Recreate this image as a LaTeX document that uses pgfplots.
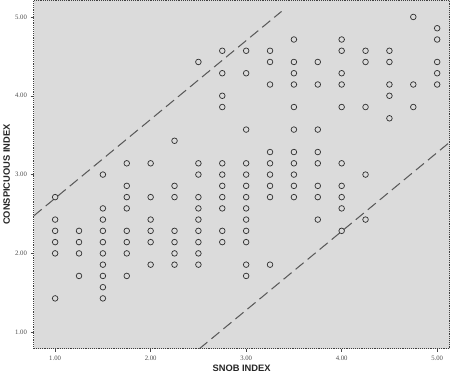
\documentclass[border=0pt]{standalone}
\usepackage{pgfplots}
\pgfplotsset{compat=1.18}
\usepackage{fontspec}
\setmainfont{Liberation Serif}
\newfontfamily\labelfont{Liberation Sans}
\begin{document}
\begin{tikzpicture}
\begin{axis}[
  scale only axis, width=400bp, height=335bp,
  xmin=0.775, xmax=5.13, ymin=0.79, ymax=5.21,
  xtick={1,2,3,4,5}, ytick={1,2,3,4,5},
  xticklabels={1.00,2.00,3.00,4.00,5.00},
  yticklabels={1.00,2.00,3.00,4.00,5.00},
  tick align=outside, tick pos=left,
  major tick length=3bp,
  tick style={black!70, line width=0.5pt},
  axis background/.style={fill=black!14},
  axis line style={black!75, densely dotted, line width=0.8pt},
  ticklabel style={font=\fontsize{6.5}{7}\selectfont, text=black!70},
  xlabel={SNOB INDEX}, ylabel={CONSPICUOUS INDEX},
  label style={font=\labelfont\bfseries\fontsize{9}{10}\selectfont, text=black!85},
  xlabel style={yshift=2bp},
  ylabel style={yshift=-2bp},
  clip=true,
]
\addplot[only marks, mark=o, mark size=2.7bp, black!80, mark options={line width=0.7pt}] table {
x y
1.00 1.429
1.00 2.000
1.00 2.143
1.00 2.286
1.00 2.429
1.00 2.714
1.25 1.714
1.25 2.000
1.25 2.143
1.25 2.286
1.50 1.429
1.50 1.571
1.50 1.714
1.50 1.857
1.50 2.000
1.50 2.143
1.50 2.286
1.50 2.429
1.50 2.571
1.50 3.000
1.75 1.714
1.75 2.000
1.75 2.143
1.75 2.286
1.75 2.571
1.75 2.714
1.75 2.857
1.75 3.143
2.00 1.857
2.00 2.143
2.00 2.286
2.00 2.429
2.00 2.714
2.00 3.143
2.25 1.857
2.25 2.000
2.25 2.143
2.25 2.286
2.25 2.714
2.25 2.857
2.25 3.429
2.50 1.857
2.50 2.000
2.50 2.143
2.50 2.286
2.50 2.429
2.50 2.571
2.50 2.714
2.50 3.000
2.50 3.143
2.50 4.429
2.75 2.143
2.75 2.286
2.75 2.571
2.75 2.714
2.75 2.857
2.75 3.000
2.75 3.143
2.75 3.857
2.75 4.000
2.75 4.286
2.75 4.571
3.00 1.714
3.00 1.857
3.00 2.143
3.00 2.286
3.00 2.429
3.00 2.571
3.00 2.714
3.00 2.857
3.00 3.000
3.00 3.143
3.00 3.571
3.00 4.286
3.00 4.571
3.25 1.857
3.25 2.714
3.25 2.857
3.25 3.000
3.25 3.143
3.25 3.286
3.25 4.143
3.25 4.429
3.25 4.571
3.50 2.714
3.50 2.857
3.50 3.000
3.50 3.143
3.50 3.286
3.50 3.571
3.50 3.857
3.50 4.143
3.50 4.286
3.50 4.429
3.50 4.714
3.75 2.429
3.75 2.714
3.75 2.857
3.75 3.143
3.75 3.286
3.75 3.571
3.75 4.143
3.75 4.429
4.00 2.286
4.00 2.571
4.00 2.714
4.00 2.857
4.00 3.143
4.00 3.857
4.00 4.143
4.00 4.286
4.00 4.571
4.00 4.714
4.25 2.429
4.25 3.000
4.25 3.857
4.25 4.429
4.25 4.571
4.50 3.714
4.50 4.000
4.50 4.143
4.50 4.429
4.50 4.571
4.75 3.857
4.75 4.143
4.75 5.000
5.00 4.143
5.00 4.286
5.00 4.429
5.00 4.714
5.00 4.857
};
\addplot[black!65, line width=1pt, dash pattern=on 10bp off 5bp] coordinates {(0.775,2.475) (3.37,5.07)};
\addplot[black!65, line width=1pt, dash pattern=on 10bp off 5bp] coordinates {(2.51,0.79) (5.13,3.41)};
\end{axis}
\end{tikzpicture}
\end{document}
